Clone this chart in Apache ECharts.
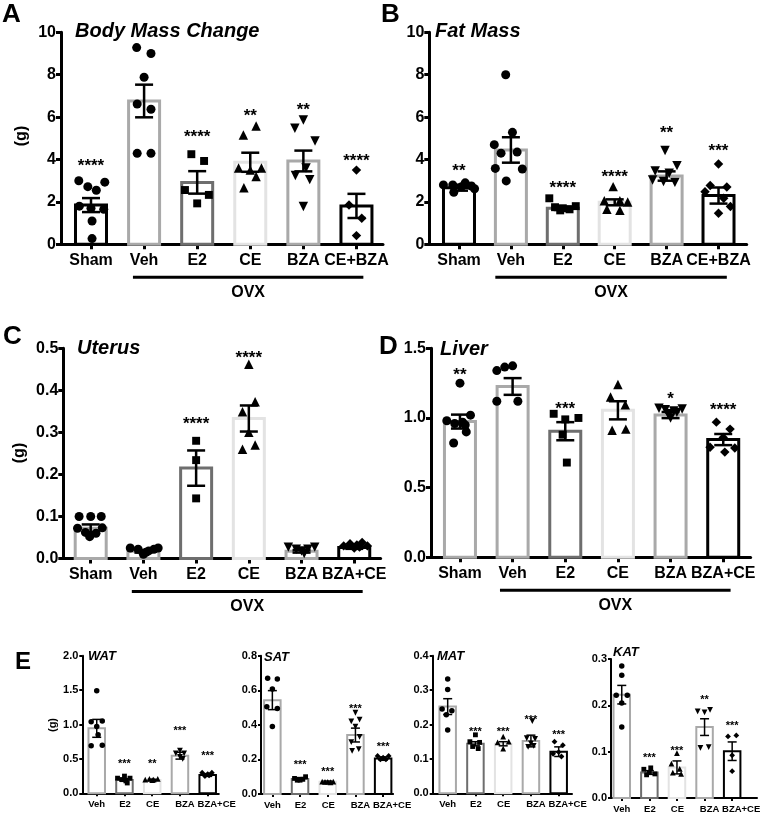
<!DOCTYPE html>
<html><head><meta charset="utf-8">
<script src="https://cdn.jsdelivr.net/npm/echarts@6/dist/echarts.min.js"></script>
<style>html,body{margin:0;padding:0;background:#fff}#c{width:761px;height:815px}</style>
</head><body><div id="c"></div>
<script>
// ---------- categories ----------
const catsAB = ['Sham','Veh','E2','CE','BZA','CE+BZA'];
const catsCD = ['Sham','Veh','E2','CE','BZA','BZA+CE'];
const catsE  = ['Veh','E2','CE','BZA','BZA+CE'];

// ---------- A: Body Mass Change ----------
const bodyMean  = [1.85, 6.76, 2.92, 3.87, 3.93, 1.81];
const bodySem   = [0.33, 0.77, 0.53, 0.45, 0.49, 0.57];
const bodyStars = ['****','','****','**','**','****'];
const bodyStarY = [3.9, null, 5.24, 6.26, 6.5, 4.13];
const bodyPts = [
  [[-0.23,3.0],[-0.06,2.72],[0.1,2.55],[0.26,2.93],[-0.22,1.8],[0.24,1.65],[0.0,1.7],[0.02,1.1],[0.02,0.27]],
  [[-0.14,9.28],[0.13,9.0],[0,7.88],[-0.13,6.62],[0.13,6.37],[-0.13,4.29],[0.13,4.29]],
  [[-0.11,4.25],[0.13,3.93],[-0.23,2.56],[0.22,2.33],[0,1.93]],
  [[0.11,5.58],[-0.13,5.16],[-0.22,3.6],[0.21,3.6],[0,3.5],[0.11,3.2],[-0.12,2.67]],
  [[-0.16,5.47],[0,5.86],[0.22,4.87],[-0.15,3.25],[0.12,3.05],[0.05,3.6],[0,1.78]],
  [[0,3.5],[-0.14,1.85],[0.1,1.23],[0,0.41]]
];

// ---------- B: Fat Mass ----------
const fatMean  = [2.67, 4.45, 1.70, 1.98, 3.22, 2.30];
const fatSem   = [0.14, 0.6, 0.08, 0.14, 0.22, 0.38];
const fatStars = ['**','','****','****','**','***'];
const fatStarY = [3.66, null, 2.83, 3.38, 5.42, 4.61];
const fatPts = [
  [[-0.3,2.8],[-0.12,2.8],[0.05,2.72],[-0.1,2.45],[0.12,2.9],[0.24,2.75],[0.3,2.62]],
  [[-0.1,8.0],[-0.32,4.7],[0.03,5.28],[-0.19,4.3],[0.12,4.35],[-0.3,3.58],[0.22,3.55],[-0.09,2.99]],
  [[-0.26,2.17],[-0.15,1.75],[0,1.7],[0.13,1.65],[0.25,1.8],[-0.05,1.6]],
  [[-0.03,2.72],[-0.2,2.05],[0.1,2.05],[0.25,2.0],[-0.15,1.65],[0.1,1.6]],
  [[-0.03,4.42],[0.2,3.71],[-0.22,3.46],[0.05,3.35],[-0.27,3.03],[-0.06,2.96],[0.16,2.92]],
  [[0,3.79],[-0.16,2.77],[0.16,2.7],[-0.26,2.48],[0.1,2.17],[0.23,1.78],[0,1.46]]
];

// ---------- C: Uterus ----------
const utMean  = [0.072, 0.017, 0.215, 0.333, 0.017, 0.026];
const utSem   = [0.009, 0.003, 0.042, 0.031, 0.003, 0.003];
const utStars = ['','','****','****','',''];
const utStarY = [null, null, 0.33, 0.486, null, null];
const utPts = [
  [[-0.22,0.1],[0,0.1],[0.2,0.1],[-0.25,0.072],[0.22,0.073],[-0.1,0.062],[0.1,0.06],[-0.02,0.052]],
  [[-0.25,0.025],[-0.1,0.022],[0.05,0.015],[0.2,0.022],[0.28,0.025],[0,0.01],[0.1,0.018]],
  [[0,0.28],[0,0.234],[0,0.143]],
  [[0,0.462],[0.12,0.373],[-0.12,0.349],[0,0.3],[-0.12,0.26],[0.12,0.27]],
  [[-0.25,0.027],[-0.1,0.022],[0,0.018],[0.12,0.022],[0.25,0.027],[0.05,0.012]],
  [[-0.2,0.03],[-0.08,0.035],[0.05,0.032],[0.15,0.038],[0.25,0.03],[0,0.025],[0.1,0.027]]
];

// ---------- D: Liver ----------
const livMean  = [0.974, 1.226, 0.905, 1.055, 1.021, 0.845];
const livSem   = [0.05, 0.06, 0.065, 0.065, 0.022, 0.04];
const livStars = ['**','','***','','*','****'];
const livStarY = [1.34, null, 1.095, null, 1.167, 1.083];
const livPts = [
  [[0,1.25],[-0.25,0.98],[-0.1,0.96],[0.05,0.97],[0.2,1.02],[0.1,0.95],[0.12,0.9],[-0.12,0.82]],
  [[-0.3,1.34],[-0.15,1.365],[0,1.374],[-0.3,1.12],[0.1,1.12]],
  [[-0.22,1.03],[0.25,1.0],[0,0.99],[-0.05,0.88],[0.03,0.68]],
  [[0,1.24],[-0.14,1.15],[0.14,1.095],[-0.11,0.912],[0.15,0.92]],
  [[-0.22,1.07],[-0.1,1.06],[0.06,1.05],[0.22,1.065],[0,1.0],[-0.05,1.03],[0.12,1.04]],
  [[-0.13,0.97],[0.13,0.92],[0,0.86],[-0.25,0.79],[0.03,0.755],[0.22,0.785]]
];

// ---------- E: WAT / SAT / MAT / KAT ----------
const watMean  = [0.944, 0.194, 0.194, 0.547, 0.266];
const watSem   = [0.13, 0.02, 0.01, 0.05, 0.02];
const watStars = ['','***','**','***','***'];
const watStarY = [null, 0.465, 0.465, 0.944, 0.586];
const watPts = [
  [[0,1.49],[-0.2,1.04],[0.2,1.05],[0,0.97],[-0.2,0.69],[0.2,0.7],[0.05,0.85]],
  [[-0.25,0.22],[-0.1,0.2],[0.05,0.18],[0.2,0.22],[0,0.25],[0.1,0.15]],
  [[-0.25,0.2],[-0.1,0.21],[0.05,0.2],[0.2,0.21],[0,0.19]],
  [[0,0.62],[-0.15,0.58],[0.15,0.58],[0,0.53],[0.1,0.5]],
  [[-0.2,0.3],[0,0.28],[0.15,0.3],[0.05,0.26],[-0.1,0.25]]
];

const satMean  = [0.543, 0.087, 0.071, 0.341, 0.205];
const satSem   = [0.055, 0.008, 0.004, 0.04, 0.01];
const satStars = ['','***','***','***','***'];
const satStarY = [null, 0.185, 0.145, 0.505, 0.29];
const satPts = [
  [[-0.17,0.669],[0.18,0.665],[0,0.607],[-0.2,0.505],[0.18,0.495],[0,0.39]],
  [[-0.2,0.09],[0,0.08],[0.2,0.1],[0.1,0.085],[-0.1,0.08]],
  [[-0.2,0.072],[0,0.07],[0.2,0.072],[0.1,0.068],[-0.1,0.07]],
  [[0,0.47],[-0.15,0.42],[0.15,0.43],[0,0.39],[0.15,0.33],[-0.15,0.3],[-0.12,0.25],[0.12,0.26]],
  [[-0.2,0.22],[0,0.21],[0.2,0.22],[0.1,0.2],[-0.1,0.2]]
];

const matMean  = [0.252, 0.144, 0.144, 0.152, 0.121];
const matSem   = [0.023, 0.006, 0.006, 0.017, 0.014];
const matStars = ['','***','***','***','***'];
const matStarY = [null, 0.186, 0.186, 0.22, 0.179];
const matPts = [
  [[0,0.332],[0,0.302],[-0.2,0.245],[0.15,0.24],[-0.05,0.228],[0,0.184]],
  [[0,0.17],[-0.2,0.15],[0.15,0.148],[-0.1,0.136],[0.1,0.13]],
  [[0,0.165],[-0.2,0.148],[0.2,0.15],[0,0.13]],
  [[0.05,0.21],[-0.15,0.16],[0.15,0.158],[0,0.145],[-0.1,0.135],[0.1,0.138]],
  [[-0.15,0.15],[0.15,0.14],[-0.2,0.115],[0.1,0.107],[0,0.12]]
];

const katMean  = [0.223, 0.055, 0.066, 0.153, 0.101];
const katSem   = [0.02, 0.004, 0.014, 0.018, 0.02];
const katStars = ['','***','***','**','***'];
const katStarY = [null, 0.092, 0.108, 0.218, 0.161];
const katPts = [
  [[0,0.285],[0,0.265],[-0.2,0.222],[0.2,0.222],[0,0.205],[0,0.153]],
  [[-0.2,0.062],[0.05,0.065],[0,0.055],[0.2,0.052],[-0.1,0.05]],
  [[0,0.097],[-0.2,0.074],[0.1,0.063],[-0.15,0.055],[0.15,0.052]],
  [[-0.25,0.187],[0,0.185],[0.2,0.19],[-0.15,0.108],[0.15,0.11]],
  [[-0.15,0.133],[0.15,0.135],[0,0.092],[0,0.058]]
];

// ---------- styles ----------
const GRAY='#a9a9a9', DARK='#6e6e6e', LIGHT='#e3e3e3', BLK='#000000';
const FONT='"Liberation Sans", Arial, sans-serif';
const INV_TRI='path://M0,0L2,0L1,1.8Z';
const symsAB=['circle','circle','rect','triangle',INV_TRI,'diamond'];
const symsE=['circle','rect','triangle',INV_TRI,'diamond'];
const symScale={circle:1, rect:0.88, triangle:1.05, diamond:1.05};
symScale[INV_TRI]=1.05;

const BIG={axisW:3,tickLen:5,xFont:16,yFont:16,barW:31,bw:3,sym:9,errW:2.5,cap:18,starFont:17,xMargin:8,yMargin:5,ownLabels:false};
const SMALL={axisW:2,tickLen:3,xFont:9.5,yFont:11,barW:16.5,bw:2,sym:5.5,errW:1.5,cap:9,starFont:11,xMargin:6,yMargin:4,ownLabels:true,
  labelShift:[0,0.5,0.5,5,9]};

const panels = [
  {grid:{left:61,top:32.3,width:322,height:212}, xMin:-0.565,xMax:5.5, yMax:10,yInt:2,dec:0,
   cats:catsAB,mean:bodyMean,sem:bodySem,pts:bodyPts,stars:bodyStars,starY:bodyStarY,
   colors:[BLK,GRAY,DARK,LIGHT,GRAY,BLK],syms:symsAB,st:BIG,ovx:[0.79,5.13]},
  {grid:{left:429.3,top:32.3,width:317.4,height:212}, xMin:-0.572,xMax:5.543, yMax:10,yInt:2,dec:0,
   cats:catsAB,mean:fatMean,sem:fatSem,pts:fatPts,stars:fatStars,starY:fatStarY,
   colors:[BLK,GRAY,DARK,LIGHT,GRAY,BLK],syms:symsAB,st:BIG,ovx:[0.7,5.16]},
  {grid:{left:63.3,top:348.3,width:317.3,height:210.2}, xMin:-0.52,xMax:5.5, yMax:0.5,yInt:0.1,dec:1,
   cats:catsCD,mean:utMean,sem:utSem,pts:utPts,stars:utStars,starY:utStarY,
   colors:[GRAY,GRAY,DARK,LIGHT,GRAY,BLK],syms:symsAB,st:BIG,ovx:[0.78,5.16]},
  {grid:{left:431,top:348.3,width:319.6,height:209}, xMin:-0.55,xMax:5.52, yMax:1.5,yInt:0.5,dec:1,
   cats:catsCD,mean:livMean,sem:livSem,pts:livPts,stars:livStars,starY:livStarY,
   colors:[GRAY,GRAY,DARK,LIGHT,GRAY,BLK],syms:symsAB,st:BIG,ovx:[0.76,5.14]},
  {grid:{left:82.3,top:655.7,width:136.5,height:137.6}, xMin:-0.52,xMax:4.4, yMax:2.0,yInt:0.5,dec:1,
   cats:catsE,mean:watMean,sem:watSem,pts:watPts,stars:watStars,starY:watStarY,
   colors:[GRAY,DARK,LIGHT,GRAY,BLK],syms:symsE,st:SMALL},
  {grid:{left:261,top:655.7,width:132.1,height:138.3}, xMin:-0.41,xMax:4.36, yMax:0.8,yInt:0.2,dec:1,
   cats:catsE,mean:satMean,sem:satSem,pts:satPts,stars:satStars,starY:satStarY,
   colors:[GRAY,DARK,LIGHT,GRAY,BLK],syms:symsE,st:SMALL},
  {grid:{left:432.7,top:655.7,width:139.3,height:137.6}, xMin:-0.54,xMax:4.48, yMax:0.4,yInt:0.1,dec:1,
   cats:catsE,mean:matMean,sem:matSem,pts:matPts,stars:matStars,starY:matStarY,
   colors:[GRAY,DARK,LIGHT,GRAY,BLK],syms:symsE,st:SMALL},
  {grid:{left:611,top:659,width:146,height:139}, xMin:-0.39,xMax:4.9, yMax:0.3,yInt:0.1,dec:1,
   cats:catsE,mean:katMean,sem:katSem,pts:katPts,stars:katStars,starY:katStarY,
   colors:[GRAY,DARK,LIGHT,GRAY,BLK],syms:symsE,st:SMALL}
];

const grids=[], xAxes=[], yAxes=[], series=[];
panels.forEach((p,i)=>{
  const st=p.st;
  grids.push(Object.assign({containLabel:false}, p.grid));
  const idx=p.cats.map((c,k)=>k);
  xAxes.push({type:'value',gridIndex:i,min:p.xMin,max:p.xMax,
    axisLine:{show:true,onZero:false,lineStyle:{color:'#000',width:st.axisW}},
    axisTick:{show:true,customValues:idx,length:st.tickLen,lineStyle:{color:'#000',width:st.axisW}},
    axisLabel:{show:!st.ownLabels,customValues:idx,hideOverlap:false,
      margin:st.xMargin,color:'#000',fontFamily:FONT,fontWeight:'bold',fontSize:st.xFont,
      formatter:v=>p.cats[Math.round(v)]},
    splitLine:{show:false}});
  yAxes.push({type:'value',gridIndex:i,min:0,max:p.yMax,interval:p.yInt,
    axisLine:{show:true,onZero:false,lineStyle:{color:'#000',width:st.axisW}},
    axisTick:{show:true,length:st.tickLen,lineStyle:{color:'#000',width:st.axisW}},
    axisLabel:{margin:st.yMargin,color:'#000',fontFamily:FONT,fontWeight:'bold',fontSize:st.yFont,
      formatter:v=>Number(v).toFixed(p.dec)},
    splitLine:{show:false}});
  // bars
  series.push({type:'custom',xAxisIndex:i,yAxisIndex:i,z:1,clip:false,
    data:p.mean.map((m,k)=>[k,m]),
    renderItem:(params,api)=>{
      const k=api.value(0), top=api.coord([k,api.value(1)]), base=api.coord([k,0]);
      return {type:'rect',shape:{x:top[0]-st.barW/2,y:top[1],width:st.barW,height:base[1]-top[1]},
        style:{fill:'#fff',stroke:p.colors[k],lineWidth:st.bw}};
    }});
  // points
  p.pts.forEach((grp,k)=>{
    const sym=p.syms[k];
    series.push({type:'scatter',xAxisIndex:i,yAxisIndex:i,z:3,symbol:sym,
      symbolSize:st.sym*symScale[sym],itemStyle:{color:'#000',opacity:1},silent:true,
      data:grp.map(d=>[k+d[0],d[1]])});
  });
  // error bars
  series.push({type:'custom',xAxisIndex:i,yAxisIndex:i,z:4,clip:false,
    data:p.mean.map((m,k)=>[k,m,p.sem[k]]),
    renderItem:(params,api)=>{
      const k=api.value(0), m=api.value(1), s=api.value(2);
      const hi=api.coord([k,m+s]), lo=api.coord([k,m-s]);
      const h=st.cap/2, sty={stroke:'#000',lineWidth:st.errW};
      return {type:'group',children:[
        {type:'line',shape:{x1:hi[0],y1:hi[1],x2:lo[0],y2:lo[1]},style:sty},
        {type:'line',shape:{x1:hi[0]-h,y1:hi[1],x2:hi[0]+h,y2:hi[1]},style:sty},
        {type:'line',shape:{x1:lo[0]-h,y1:lo[1],x2:lo[0]+h,y2:lo[1]},style:sty}
      ]};
    }});
  // stars
  series.push({type:'custom',xAxisIndex:i,yAxisIndex:i,z:5,clip:false,
    data:p.starY.map((y,k)=>y==null?null:[k,y]).filter(d=>d),
    renderItem:(params,api)=>{
      const k=api.value(0), c=api.coord([k,api.value(1)]);
      return {type:'text',style:{text:p.stars[k],x:c[0],y:c[1]+0.25*st.starFont,align:'center',verticalAlign:'middle',
        fill:'#000',fontFamily:FONT,fontWeight:'bold',fontSize:st.starFont}};
    }});
  // category labels for the small panels (drawn so that none get hidden)
  if(st.ownLabels){
    series.push({type:'custom',xAxisIndex:i,yAxisIndex:i,z:5,clip:false,
      data:idx.map(k=>[k,0]),
      renderItem:(params,api)=>{
        const k=api.value(0), c=api.coord([k,0]);
        return {type:'text',style:{text:p.cats[k],x:c[0]+st.labelShift[k],y:c[1]+st.xMargin,align:'center',verticalAlign:'top',
          fill:'#000',fontFamily:FONT,fontWeight:'bold',fontSize:st.xFont}};
      }});
  }
});

function txt(t,x,y,size,opt){
  opt=opt||{};
  return {type:'text',x:x,y:y,rotation:opt.rot||0,z:10,
    style:{text:t,x:0,y:0,fill:'#000',fontFamily:FONT,fontWeight:'bold',fontStyle:opt.italic?'italic':'normal',
      fontSize:size,align:opt.align||'left',verticalAlign:'middle'}};
}
const staticGraphics=[
  txt('A',2,15,26), txt('B',381,15,26), txt('C',3,337,26), txt('D',379,347,26), txt('E',15,662,24),
  txt('Body Mass Change',75,31.7,20,{italic:true}), txt('Fat Mass',435,31.7,20,{italic:true}),
  txt('Uterus',77,348.5,20,{italic:true}), txt('Liver',440,349,20,{italic:true}),
  txt('WAT',88,656.7,13,{italic:true}), txt('SAT',264,657,13,{italic:true}),
  txt('MAT',437,656,13,{italic:true}), txt('KAT',613,652.7,13,{italic:true}),
  txt('(g)',22,136,16,{rot:Math.PI/2,align:'center'}),
  txt('(g)',20,453,16,{rot:Math.PI/2,align:'center'}),
  txt('(g)',53,725,11,{rot:Math.PI/2,align:'center'})
];

const chart=echarts.init(document.getElementById('c'),null,{renderer:'canvas'});
chart.setOption({animation:false,backgroundColor:'#fff',textStyle:{fontFamily:FONT},
  grid:grids,xAxis:xAxes,yAxis:yAxes,series:series,graphic:staticGraphics});

const extra=[];
panels.forEach((p,i)=>{
  if(!p.ovx) return;
  const a=chart.convertToPixel({gridIndex:i},[p.ovx[0],0]);
  const b=chart.convertToPixel({gridIndex:i},[p.ovx[1],0]);
  const y=a[1]+33;
  extra.push({type:'line',z:10,shape:{x1:a[0],y1:y,x2:b[0],y2:y},style:{stroke:'#000',lineWidth:3}});
  extra.push(txt('OVX',(a[0]+b[0])/2,y+15,16,{align:'center'}));
});
chart.setOption({graphic:staticGraphics.concat(extra)});
</script></body></html>
